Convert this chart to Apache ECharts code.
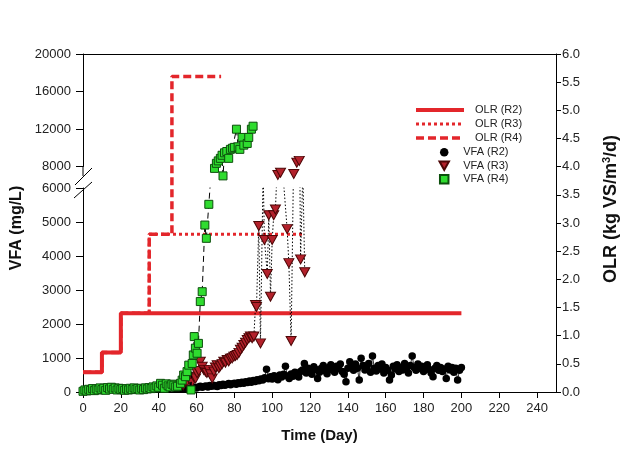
<!DOCTYPE html>
<html><head><meta charset="utf-8">
<script src="https://cdn.jsdelivr.net/npm/echarts@6/dist/echarts.min.js"></script>
<style>html,body{margin:0;padding:0;background:#fff}#c{width:622px;height:452px}</style>
</head><body><div id="c"></div>
<script>
// ---------------- data ----------------
// OLR step lines (kg VS/m3/d): day where each level starts
const olrR2Days = [0, 10, 20, 200];
const olrR2 = [0.35, 0.7, 1.4, 1.4];
const olrR3Days = [0, 10, 20, 35, 117];
const olrR3 = [0.35, 0.7, 1.4, 2.8, 2.8];
const olrR4Days = [0, 10, 20, 35, 47, 73];
const olrR4 = [0.35, 0.7, 1.4, 2.8, 5.6, 5.6];

// VFA R2 (mg/L)
const r2Days = [0,1,2,3,4,5,6,7,8,9,10,11,12,13,14,15,16,17,18,19,20,21,22,23,24,25,26,27,28,29,30,31,32,33,34,35,36,37,38,39,40,41,42,43,44,45,46,47,48,49,50,51,52,53,54,55,56,57,58,
59,60,61,62,63,64,65,66,67,68,69,70,71,72,73,74,75,76,77,78,79,80,81,82,83,84,85,86,87,88,89,90,91,92,93,94,95,
96,97,98,99,100,101,102,103,104,105,106,107,108,109,110,111,112,113,114,115,
116,117,118,119,120,121,122,123,124,125,126,127,128,129,130,131,132,133,134,135,136,137,138,139,140,
141,142,143,144,145,146,147,148,149,150,151,152,153,154,155,156,157,158,159,160,161,162,163,164,165,166,167,168,169,170,
171,172,173,174,175,176,177,178,179,180,181,182,183,184,185,186,187,188,189,190,191,192,193,194,195,196,197,198,199,200];
const r2Vfa = [30,45,40,55,50,60,45,70,55,65,80,60,75,90,70,85,95,75,100,85,110,90,80,105,95,120,100,85,110,95,120,105,90,115,100,125,110,95,120,105,130,110,100,125,115,95,120,135,110,100,125,90,110,80,100,120,95,110,130,
140,120,150,170,140,160,180,150,190,170,200,180,160,210,190,230,200,220,250,210,240,260,230,270,250,290,260,300,280,320,290,340,310,360,330,380,350,
420,670,390,450,380,480,420,360,500,440,520,760,470,400,530,460,580,500,440,600,
650,840,560,700,620,520,740,660,400,580,700,780,620,540,720,800,650,580,760,690,820,600,520,300,700,
890,760,640,820,700,350,990,780,650,720,840,580,1060,700,620,780,680,820,560,720,640,350,500,760,680,800,600,720,650,840,
700,560,780,1060,720,640,820,690,760,600,720,800,660,560,450,700,780,640,720,600,680,400,760,650,720,580,700,350,640,720];

// VFA R3 (mg/L)
const r3Days = [53,55,56.5,57.5,58.5,59.5,60.3,61.2,62,63,63.8,64.7,65.5,66.5,67.4,68.3,69.2,70,70.9,71.8,
72.6,73.5,74.4,75.3,76.2,77,77.9,78.8,79.7,80.6,81.5,82.4,83.2,84.1,85,85.9,86.8,87.7,88.5,89.4,
90.3,91.2,91.7,92.9,93.8,95.2,95.9,97.4,98.2,99.1,100,100.8,101.7,103,104.4,107.9,108.8,110,111.4,113,114.3,115,116.2,117.2];
const r3Vfa = [200,300,350,270,450,400,550,620,890,740,650,600,560,650,520,400,600,720,790,700,
760,820,890,860,940,900,980,990,1040,1060,1090,1150,1240,1300,1380,1450,1530,1580,1630,1580,
1630,2560,2500,4880,1430,6500,4470,3470,5200,2800,4470,5200,5370,7100,7340,4790,3790,1500,7200,8400,8600,3900,6500,3520];

// VFA R4 (mg/L)
const r4Days = [0,1,2,3,4,5,6,7,8,9,10,11,12,13,14,15,16,17,18,19,20,21,22,23,24,25,26,27,28,29,30,31,32,33,34,35,36,37,38,39,40,41,42,43,44,45,46,47,48,49,50,
51.5,52.4,53.2,54.2,55,55.9,57.1,57.7,58.3,58.8,59.4,60.3,61,62,63,64.4,65.2,66.5,
69.5,70.5,71.5,72.6,73.5,74,74.8,76,77,77.9,79,80,81.1,82,82.9,84.1,85,86.8,87.6,89,89.9];
const r4Vfa = [20,60,30,80,50,100,40,90,60,120,70,110,50,130,90,140,80,120,60,110,70,100,50,90,60,110,70,120,80,100,60,110,70,120,90,130,100,150,120,180,140,255,200,110,240,180,150,230,200,150,170,
255,350,500,450,600,790,60,840,1090,1630,1290,1140,1430,2660,2950,4910,4520,5520,
7800,8340,8600,8870,9200,7000,9460,9600,8870,9830,9950,10040,11980,10100,9830,11100,10280,10460,11100,11980,12300];

// axis break: lower segment 0-6000, upper segment 8000-20000
const lowerRange = [0, 6000], upperRange = [8000, 20000];
const lowerTicks = [0, 1000, 2000, 3000, 4000, 5000, 6000];
const upperTicks = [8000, 12000, 16000, 20000];
const breakHidden = 6900; // values inside the break gap are not drawn above it

// ---------------- chart ----------------
const FONT = '"Liberation Sans", Arial, sans-serif';
const RED = '#e3262b';
const pairs = (xs, ys) => xs.map((x, i) => [x, ys[i]]);
const upper = (xs, ys) => pairs(xs, ys).filter(p => p[1] >= breakHidden);

const chart = echarts.init(document.getElementById('c'));
const axisLine = { show: true, onZero: false, lineStyle: { color: '#000', width: 1 } };
const lbl = { fontFamily: FONT, fontSize: 13, color: '#222' };
const plain = v => String(v);

const r2Item = { color: '#000', opacity: 1 };
const r3Item = { color: '#b3212b', borderColor: '#4d0606', borderWidth: 1, opacity: 1 };
const r4Item = { color: '#2fdc2f', borderColor: '#0c4f0c', borderWidth: 1, opacity: 1 };

chart.setOption({
  animation: false,
  backgroundColor: '#fff',
  grid: [
    { left: 83, top: 188, width: 473, height: 204 },
    { left: 83, top: 54, width: 473, height: 112.5 },
    { left: 83, top: 54, width: 473, height: 338 }
  ],
  xAxis: [
    { gridIndex: 0, type: 'value', min: 0, max: 250, interval: 20,
      axisLine, axisTick: { show: true, length: 6, lineStyle: { color: '#000' } },
      axisLabel: Object.assign({ margin: 10, showMaxLabel: false, formatter: plain }, lbl), splitLine: { show: false },
      name: 'Time (Day)', nameLocation: 'middle', nameGap: 36,
      nameTextStyle: { fontFamily: FONT, fontSize: 15, fontWeight: 'bold', color: '#111' } },
    { gridIndex: 1, type: 'value', min: 0, max: 250, show: false },
    { gridIndex: 2, type: 'value', min: 0, max: 250, position: 'top',
      axisLine, axisTick: { show: false }, axisLabel: { show: false }, splitLine: { show: false } }
  ],
  yAxis: [
    { gridIndex: 0, type: 'value', min: lowerRange[0], max: lowerRange[1], interval: 1000,
      axisLine, axisTick: { show: true, length: 7, customValues: lowerTicks, lineStyle: { color: '#000' } },
      axisLabel: Object.assign({ margin: 12, customValues: lowerTicks, formatter: plain }, lbl), splitLine: { show: false } },
    { gridIndex: 1, type: 'value', min: upperRange[0], max: upperRange[1], interval: 4000,
      axisLine, axisTick: { show: true, length: 7, customValues: upperTicks, lineStyle: { color: '#000' } },
      axisLabel: Object.assign({ margin: 12, customValues: upperTicks, formatter: plain }, lbl), splitLine: { show: false } },
    { gridIndex: 2, type: 'value', position: 'right', min: 0, max: 6, interval: 0.5,
      axisLine, axisTick: { show: true, length: 5, lineStyle: { color: '#000' } },
      axisLabel: Object.assign({ margin: 6, formatter: v => v.toFixed(1) }, lbl), splitLine: { show: false } }
  ],
  legend: [
    { orient: 'vertical', left: 409, top: 98, itemWidth: 48, itemHeight: 8, itemGap: 0, selectedMode: false,
      textStyle: { fontFamily: FONT, fontSize: 11, color: '#222', lineHeight: 14, padding: [0, 0, 0, 6] },
      data: [
        { name: 'OLR (R2)', itemStyle: { opacity: 0 }, lineStyle: { width: 4 } },
        { name: 'OLR (R3)', itemStyle: { opacity: 0 }, lineStyle: { width: 3 } },
        { name: 'OLR (R4)', itemStyle: { opacity: 0 }, lineStyle: { width: 3.5 } }] },
    { orient: 'vertical', left: 433.5, top: 140.5, itemWidth: 28, itemHeight: 8.5, itemGap: 0, selectedMode: false,
      textStyle: { fontFamily: FONT, fontSize: 11, color: '#222', lineHeight: 13.5 },
      data: [{ name: 'VFA (R2)', icon: 'circle' }, { name: 'VFA (R3)', icon: 'path://M0,0L10,0L5,9Z' },
             { name: 'VFA (R4)', icon: 'path://M0,0L10,0L10,10L0,10Z' }] }
  ],
  graphic: [
    { type: 'text', x: 17, y: 228, rotation: Math.PI / 2,
      style: { text: 'VFA (mg/L)', font: 'bold 16px ' + FONT, fill: '#111', align: 'center', verticalAlign: 'middle' } },
    { type: 'text', x: 611, y: 209, rotation: Math.PI / 2,
      style: { text: '{n|OLR (kg VS/m}{s|3}{n|/d)}', align: 'center', verticalAlign: 'middle',
        rich: { n: { font: 'bold 18px ' + FONT, fill: '#111', lineHeight: 19, verticalAlign: 'bottom' },
                s: { font: 'bold 11px ' + FONT, fill: '#111', lineHeight: 19, verticalAlign: 'top' } } } },
    { type: 'line', shape: { x1: 83, y1: 166, x2: 83, y2: 176 }, style: { stroke: '#000', lineWidth: 1 } },
    { type: 'line', shape: { x1: 75, y1: 185, x2: 92, y2: 168 }, style: { stroke: '#000', lineWidth: 1 } },
    { type: 'line', shape: { x1: 74, y1: 198, x2: 92, y2: 182 }, style: { stroke: '#000', lineWidth: 1 } }
  ],
  series: [
    { name: 'OLR (R4)', type: 'line', xAxisIndex: 2, yAxisIndex: 2, step: 'end', symbol: 'none', z: 1,
      data: pairs(olrR4Days, olrR4), itemStyle: { color: RED }, lineStyle: { color: RED, width: 3.5, type: [8, 4] } },
    { name: 'OLR (R3)', type: 'line', xAxisIndex: 2, yAxisIndex: 2, step: 'end', symbol: 'none', z: 1,
      data: pairs(olrR3Days, olrR3), itemStyle: { color: RED }, lineStyle: { color: RED, width: 3, type: [3, 3] } },
    { name: 'OLR (R2)', type: 'line', xAxisIndex: 2, yAxisIndex: 2, step: 'end', symbol: 'none', z: 1,
      data: pairs(olrR2Days, olrR2), itemStyle: { color: RED }, lineStyle: { color: RED, width: 4 } },

    { name: 'VFA (R2)', type: 'line', xAxisIndex: 0, yAxisIndex: 0, symbol: 'circle', symbolSize: 7.5, z: 3,
      showAllSymbol: true, data: pairs(r2Days, r2Vfa), itemStyle: r2Item, lineStyle: { color: '#000', width: 0.8 } },
    { name: 'VFA (R3)', type: 'line', xAxisIndex: 0, yAxisIndex: 0, symbol: 'triangle', symbolRotate: 180, symbolSize: [10, 9], z: 4,
      showAllSymbol: true, data: pairs(r3Days, r3Vfa), itemStyle: r3Item, lineStyle: { color: '#000', width: 1, type: [1.5, 2] } },
    { name: 'VFA (R4)', type: 'line', xAxisIndex: 0, yAxisIndex: 0, symbol: 'rect', symbolSize: 8, z: 5,
      showAllSymbol: true, data: pairs(r4Days, r4Vfa), itemStyle: r4Item, lineStyle: { color: '#000', width: 1, type: [6, 4] } },

    { name: 'VFA (R3)', type: 'scatter', xAxisIndex: 1, yAxisIndex: 1, symbol: 'triangle', symbolRotate: 180, symbolSize: [10, 9], z: 4,
      clip: false, data: upper(r3Days, r3Vfa), itemStyle: r3Item },
    { name: 'VFA (R4)', type: 'line', xAxisIndex: 1, yAxisIndex: 1, symbol: 'rect', symbolSize: 8, z: 5, clip: false,
      showAllSymbol: true, data: upper(r4Days, r4Vfa), itemStyle: r4Item, lineStyle: { color: '#000', width: 1, type: [6, 4] } }
  ]
});
</script>
</body></html>
